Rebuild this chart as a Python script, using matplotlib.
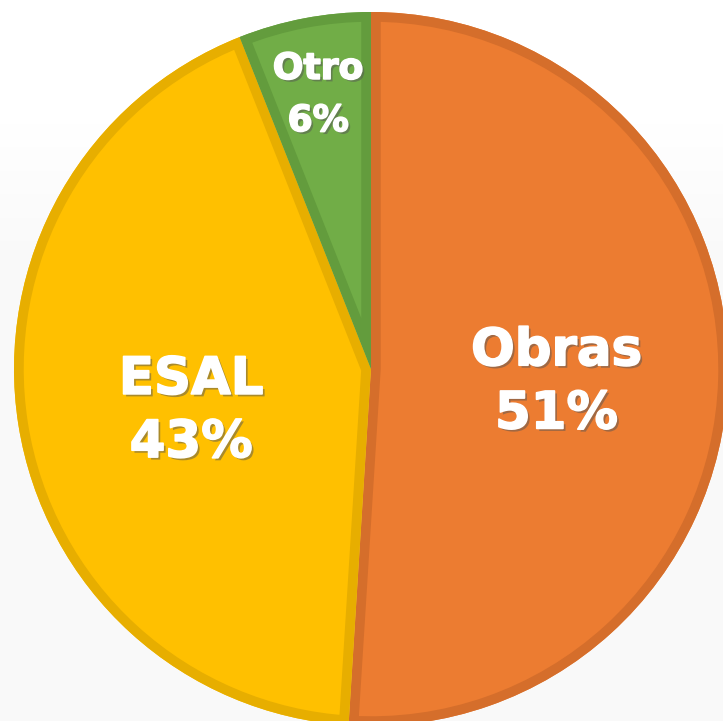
import numpy as np
import matplotlib
matplotlib.use("Agg")
import matplotlib.pyplot as plt
import matplotlib.patches as mpatches
import matplotlib.patheffects as pe

# data
labels = ["Obras", "ESAL", "Otro"]
shares = [51, 43, 6]
fills = ["#EC7C31", "#FFC000", "#71AD47"]
edges = ["#D56E2B", "#E7AE00", "#639C3D"]

# label styling / placement
label_dist = [0.52, 0.51, 0.79]
label_drop = [8, 14, 3]          # extra downward nudge, pixels
font_sizes = [37, 37, 26]
line_gap = [0.177, 0.177, 0.146]

W, H = 723, 721
cx, cy, R = 371, 369, 357   # pie centre / radius in pixels

fig = plt.figure(figsize=(W / 100, H / 100), dpi=100)

# soft background: white on top, very light grey lower down
bg = fig.add_axes([0, 0, 1, 1])
rows = np.arange(H)
grad = np.clip(1.0 - (rows - 100) / 150 * 0.025, 0.975, 1.0)[:, None]
bg.imshow(grad, aspect="auto", cmap="gray", vmin=0, vmax=1,
          extent=[0, 1, 0, 1], origin="upper")
bg.axis("off")

ax = fig.add_axes([0, 0, 1, 1])
wedges, _ = ax.pie(shares, colors=fills, startangle=90, counterclock=False,
                   radius=1.0, center=(0, 0), wedgeprops=dict(linewidth=0))
ax.set_aspect("auto")
ax.set_xlim(-cx / R, (W - cx) / R)
ax.set_ylim(-(H - cy) / R, cy / R)
ax.axis("off")

# inner border: stroke a copy of each wedge, clipped to the wedge itself
for w, ec in zip(wedges, edges):
    border = mpatches.Wedge(w.center, w.r, w.theta1, w.theta2, facecolor="none",
                            edgecolor=ec, linewidth=14, transform=ax.transData)
    ax.add_patch(border)
    border.set_clip_path(mpatches.Wedge(w.center, w.r, w.theta1, w.theta2,
                                        transform=ax.transData))

effects = [pe.withSimplePatchShadow(offset=(1.8, -1.8), shadow_rgbFace="#555555", alpha=0.5),
           pe.Stroke(linewidth=1.2, foreground="white"), pe.Normal()]

for w, lab, s, d, drop, fs, gap in zip(wedges, labels, shares, label_dist,
                                        label_drop, font_sizes, line_gap):
    mid = np.deg2rad((w.theta1 + w.theta2) / 2)
    x, y = d * np.cos(mid), d * np.sin(mid) - drop / R
    for txt, yy in ((lab, y + gap / 2), (f"{s}%", y - gap / 2)):
        ax.text(x, yy, txt, ha="center", va="center", color="white",
                fontsize=fs, fontweight="bold", family="DejaVu Sans",
                path_effects=effects)

fig.savefig("out.png", dpi=100)
